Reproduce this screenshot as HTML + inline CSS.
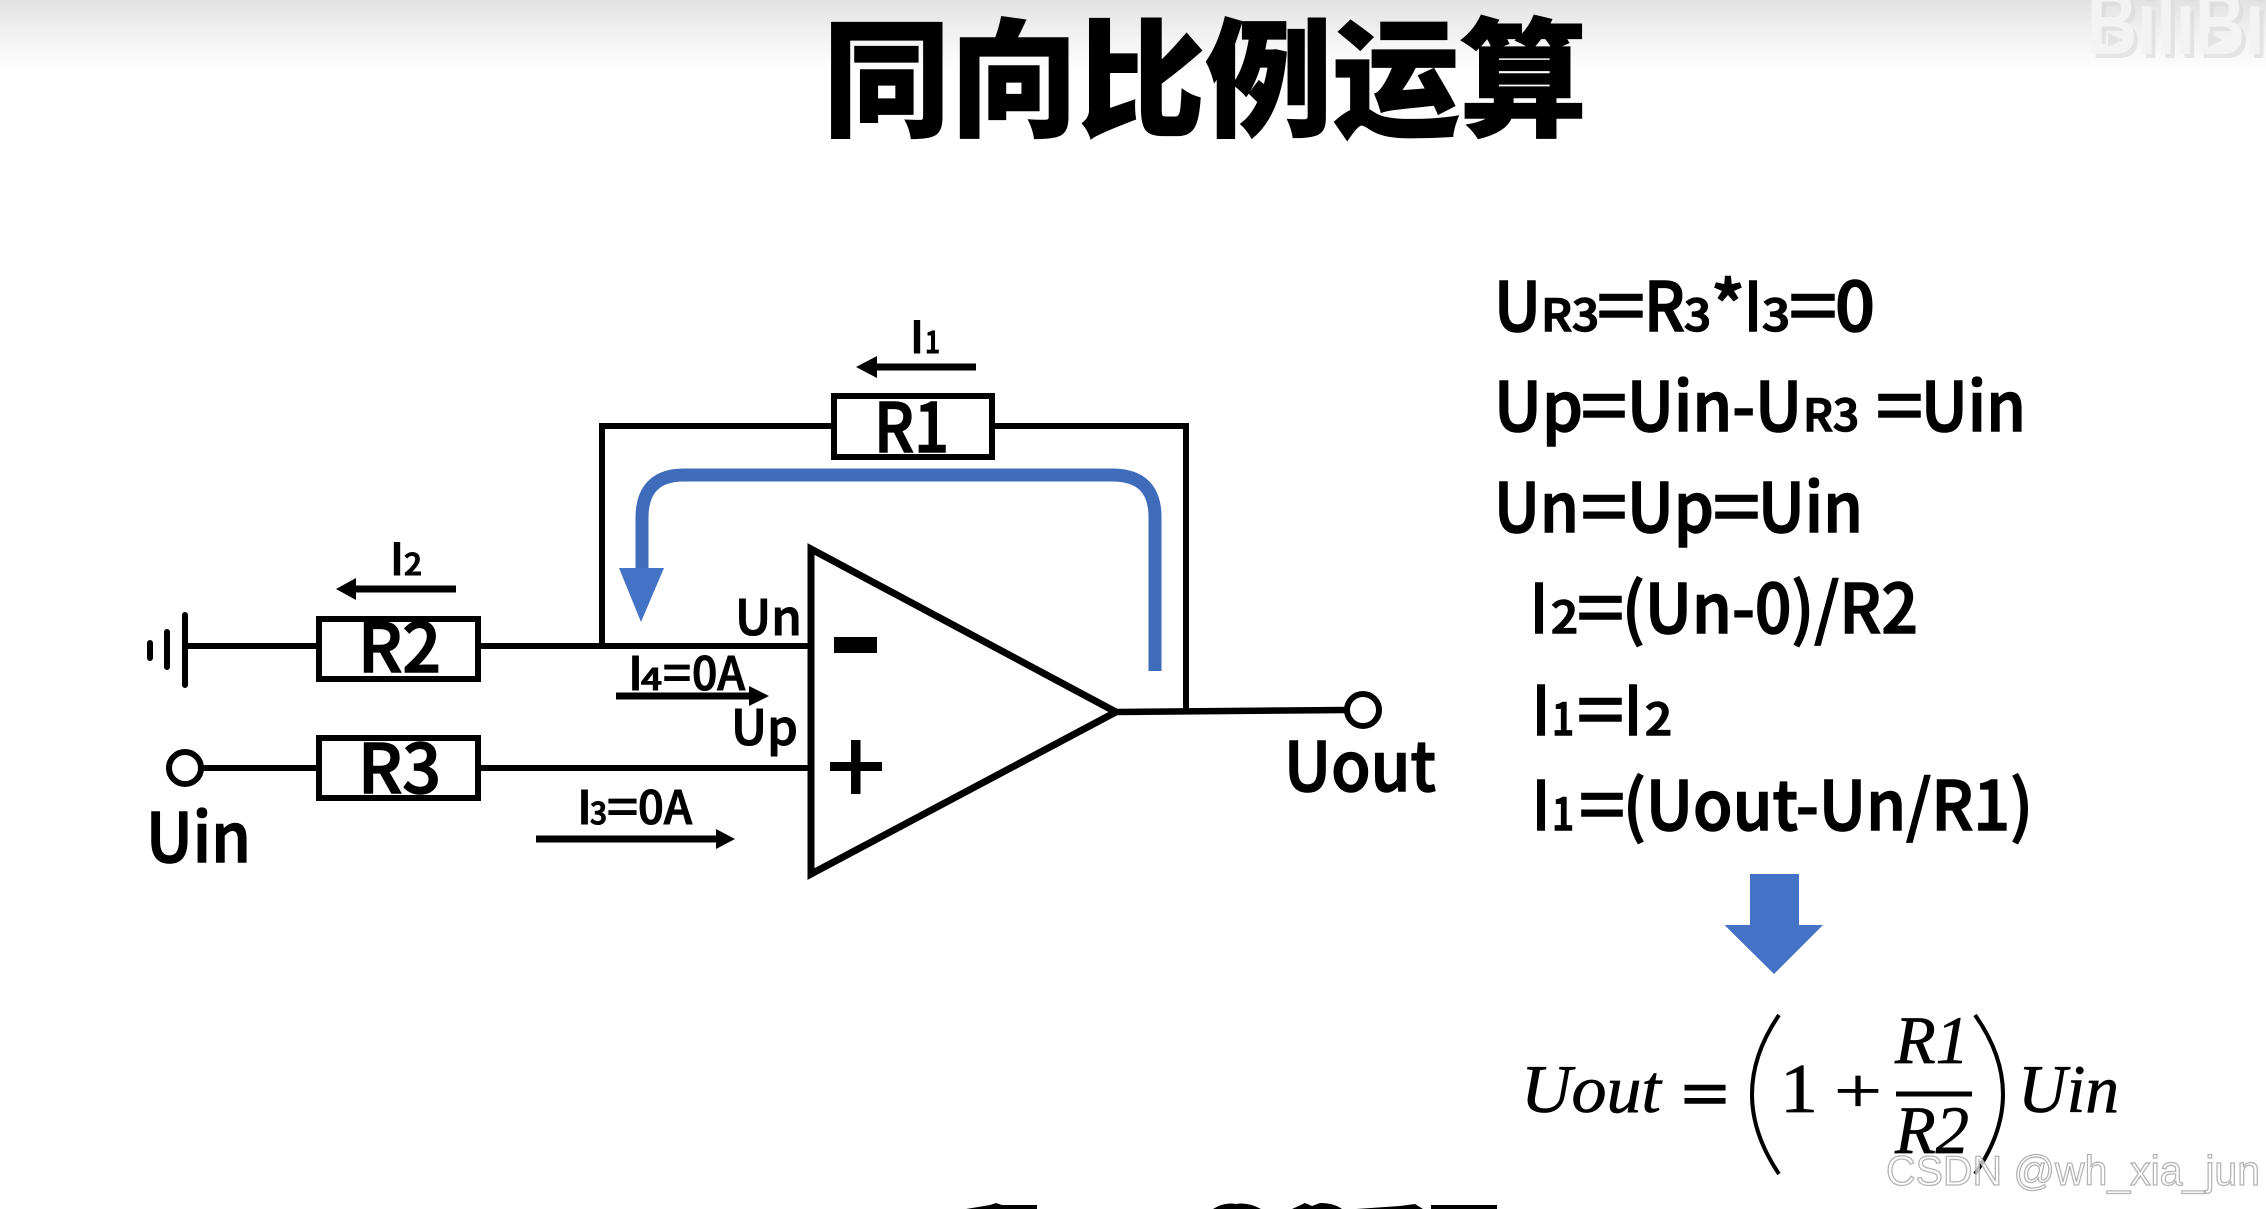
<!DOCTYPE html>
<html lang="zh">
<head>
<meta charset="utf-8">
<title>同向比例运算</title>
<style>
html,body{margin:0;padding:0;background:#fff;width:2266px;height:1209px;overflow:hidden}
svg{display:block}
.n{font-family:"Noto Sans CJK SC","Liberation Sans",sans-serif;font-weight:500;fill:#000;stroke:#000;stroke-width:1.5px}
.s{stroke-width:1.1px}
.m{font-family:"Liberation Serif",serif;font-style:italic;fill:#000;stroke:#000;stroke-width:.7px}
.r{font-family:"Liberation Serif",serif;fill:#000;stroke:#000;stroke-width:.7px}
.w{fill:none;stroke:#000;stroke-width:6}
</style>
</head>
<body>
<svg width="2266" height="1209" viewBox="0 0 2266 1209" xmlns="http://www.w3.org/2000/svg">
<defs>
<linearGradient id="g" x1="0" y1="0" x2="0" y2="1">
<stop offset="0" stop-color="#e2e2e2"/><stop offset=".5" stop-color="#f2f2f2"/><stop offset="1" stop-color="#fff"/>
</linearGradient>
</defs>
<rect width="2266" height="1209" fill="#fff"/>
<rect width="2266" height="72" fill="url(#g)"/>

<!-- bilibili watermark -->
<text x="2091" y="58" font-family="Liberation Sans,sans-serif" font-weight="700" font-size="90" fill="#dcdcdc" textLength="216" lengthAdjust="spacingAndGlyphs" opacity=".7">BiliBili</text>
<text x="2087" y="54" font-family="Liberation Sans,sans-serif" font-weight="700" font-size="90" fill="#f3f3f3" textLength="216" lengthAdjust="spacingAndGlyphs">BiliBili</text>
<path d="M2108 33L2123 40L2108 47ZM2208 33L2223 40L2208 47Z" fill="#e4e4e4"/>

<!-- title -->
<text x="823" y="126" font-family="Noto Sans CJK SC,sans-serif" font-weight="900" font-size="128" fill="#000" stroke="#000" stroke-width="1.2" textLength="764" lengthAdjust="spacingAndGlyphs">同向比例运算</text>

<!-- feedback wires -->
<path class="w" d="M602 646V426H833M993 426H1186V712"/>
<rect class="w" x="834" y="396" width="158" height="61"/>
<!-- R2 / R3 -->
<path class="w" d="M185 646H319M478 646H812M188 768H319M478 768H812"/>
<rect class="w" x="319" y="619" width="159" height="60"/>
<rect class="w" x="319" y="738" width="159" height="60"/>
<!-- ground -->
<path d="M185 615V685M167 632V667" fill="none" stroke="#000" stroke-width="6" stroke-linecap="round"/>
<path d="M150 643V658" fill="none" stroke="#000" stroke-width="6" stroke-linecap="round"/>
<circle cx="185" cy="768" r="16" fill="#fff" stroke="#000" stroke-width="6"/>

<!-- op amp -->
<path d="M811 549V874L1116 712Z" fill="#fff" stroke="#000" stroke-width="7"/>
<path d="M1116 712L1346 710" fill="none" stroke="#000" stroke-width="6.500"/>
<circle cx="1363" cy="710" r="16" fill="#fff" stroke="#000" stroke-width="6"/>
<rect x="834" y="637" width="43" height="16" fill="#000"/>
<rect x="830" y="762" width="52" height="9" fill="#000"/>
<rect x="851" y="740" width="9.500" height="54" fill="#000"/>

<!-- blue feedback arrow -->
<path d="M1155 671V517Q1155 475 1112 475H684Q642 475 642 518V572" fill="none" stroke="#3e6cba" stroke-width="13"/>
<path d="M619 568H664L641 622Z" fill="#4472c4"/>
<!-- big down arrow -->
<path d="M1750 874H1799V925H1823L1774 974L1724.500 925H1750Z" fill="#4472c4"/>

<!-- current arrows -->
<g fill="#000">
<rect x="874" y="363.500" width="102" height="7"/><path d="M856 367L877 356V378Z"/>
<rect x="354" y="585.500" width="102" height="7"/><path d="M336 589L356 578V600Z"/>
<rect x="616" y="692.500" width="136" height="7"/><path d="M769 696L749 686V706Z"/>
<rect x="536" y="835.500" width="182" height="7"/><path d="M735 839L716 829V849Z"/>
</g>

<!-- circuit labels -->
<text class="n" x="358" y="672" font-size="68" textLength="83" lengthAdjust="spacingAndGlyphs">R2</text>
<text class="n" x="358" y="793" font-size="68" textLength="83" lengthAdjust="spacingAndGlyphs">R3</text>
<text class="n" x="874" y="452" font-size="68" textLength="75" lengthAdjust="spacingAndGlyphs">R1</text>
<text class="n" x="146" y="862" font-size="68" textLength="105" lengthAdjust="spacingAndGlyphs">Uin</text>
<text class="n" x="1284" y="791" font-size="68" textLength="152" lengthAdjust="spacingAndGlyphs">Uout</text>
<text class="n s" x="735" y="635" font-size="49" textLength="67" lengthAdjust="spacingAndGlyphs">Un</text>
<text class="n s" x="731" y="745" font-size="49" textLength="67" lengthAdjust="spacingAndGlyphs">Up</text>

<text class="n s" x="910" y="353" font-size="44" textLength="14" lengthAdjust="spacingAndGlyphs">I</text>
<text class="n s" x="925" y="353" font-size="30" textLength="15" lengthAdjust="spacingAndGlyphs">1</text>
<text class="n s" x="390" y="575" font-size="44" textLength="14" lengthAdjust="spacingAndGlyphs">I</text>
<text class="n s" x="404" y="575" font-size="30" textLength="18" lengthAdjust="spacingAndGlyphs">2</text>

<text class="n s" x="628" y="690" font-size="46" textLength="15" lengthAdjust="spacingAndGlyphs">I</text>
<text class="n s" x="641" y="690" font-size="30" textLength="21" lengthAdjust="spacingAndGlyphs">4</text>
<text class="n s" x="663" y="690" font-size="46" textLength="28" lengthAdjust="spacingAndGlyphs">=</text>
<text class="n s" x="692" y="690" font-size="46" textLength="53" lengthAdjust="spacingAndGlyphs">0A</text>

<text class="n s" x="577" y="824" font-size="46" textLength="15" lengthAdjust="spacingAndGlyphs">I</text>
<text class="n s" x="590" y="824" font-size="30" textLength="17" lengthAdjust="spacingAndGlyphs">3</text>
<text class="n s" x="607" y="824" font-size="46" textLength="31" lengthAdjust="spacingAndGlyphs">=</text>
<text class="n s" x="638" y="824" font-size="46" textLength="54" lengthAdjust="spacingAndGlyphs">0A</text>

<!-- equations -->
<g>
<text class="n" x="1494" y="331" font-size="68" textLength="47" lengthAdjust="spacingAndGlyphs">U</text>
<text class="n" x="1541" y="331" font-size="44" textLength="58" lengthAdjust="spacingAndGlyphs">R3</text>
<text class="n" x="1597" y="331" font-size="68" textLength="48" lengthAdjust="spacingAndGlyphs">=</text>
<text class="n" x="1644" y="331" font-size="68" textLength="41" lengthAdjust="spacingAndGlyphs">R</text>
<text class="n" x="1684" y="331" font-size="44" textLength="27" lengthAdjust="spacingAndGlyphs">3</text>
<text class="n" x="1711" y="331" font-size="68" textLength="34" lengthAdjust="spacingAndGlyphs">*</text>
<text class="n" x="1744" y="331" font-size="68" textLength="18" lengthAdjust="spacingAndGlyphs">I</text>
<text class="n" x="1762" y="331" font-size="44" textLength="28" lengthAdjust="spacingAndGlyphs">3</text>
<text class="n" x="1789" y="331" font-size="68" textLength="48" lengthAdjust="spacingAndGlyphs">=</text>
<text class="n" x="1835" y="331" font-size="68" textLength="40" lengthAdjust="spacingAndGlyphs">0</text>

<text class="n" x="1494" y="431" font-size="68" textLength="89" lengthAdjust="spacingAndGlyphs">Up</text>
<text class="n" x="1581" y="431" font-size="68" textLength="46" lengthAdjust="spacingAndGlyphs">=</text>
<text class="n" x="1627" y="431" font-size="68" textLength="175" lengthAdjust="spacingAndGlyphs">Uin-U</text>
<text class="n" x="1803" y="431" font-size="44" textLength="56" lengthAdjust="spacingAndGlyphs">R3</text>
<text class="n" x="1876" y="431" font-size="68" textLength="47" lengthAdjust="spacingAndGlyphs">=</text>
<text class="n" x="1921" y="431" font-size="68" textLength="105" lengthAdjust="spacingAndGlyphs">Uin</text>

<text class="n" x="1494" y="532" font-size="68" textLength="85" lengthAdjust="spacingAndGlyphs">Un</text>
<text class="n" x="1581" y="532" font-size="68" textLength="46" lengthAdjust="spacingAndGlyphs">=</text>
<text class="n" x="1627" y="532" font-size="68" textLength="87" lengthAdjust="spacingAndGlyphs">Up</text>
<text class="n" x="1713" y="532" font-size="68" textLength="47" lengthAdjust="spacingAndGlyphs">=</text>
<text class="n" x="1758" y="532" font-size="68" textLength="105" lengthAdjust="spacingAndGlyphs">Uin</text>

<text class="n" x="1530" y="633" font-size="68" textLength="18" lengthAdjust="spacingAndGlyphs">I</text>
<text class="n" x="1551" y="633" font-size="44" textLength="27" lengthAdjust="spacingAndGlyphs">2</text>
<text class="n" x="1577" y="633" font-size="68" textLength="47" lengthAdjust="spacingAndGlyphs">=</text>
<text class="n" x="1622" y="633" font-size="68" textLength="296" lengthAdjust="spacingAndGlyphs">(Un-0)/R2</text>

<text class="n" x="1532" y="735" font-size="68" textLength="18" lengthAdjust="spacingAndGlyphs">I</text>
<text class="n" x="1552" y="735" font-size="44" textLength="22" lengthAdjust="spacingAndGlyphs">1</text>
<text class="n" x="1577" y="735" font-size="68" textLength="47" lengthAdjust="spacingAndGlyphs">=</text>
<text class="n" x="1624" y="735" font-size="68" textLength="18" lengthAdjust="spacingAndGlyphs">I</text>
<text class="n" x="1645" y="735" font-size="44" textLength="27" lengthAdjust="spacingAndGlyphs">2</text>

<text class="n" x="1532" y="830" font-size="68" textLength="18" lengthAdjust="spacingAndGlyphs">I</text>
<text class="n" x="1552" y="830" font-size="44" textLength="22" lengthAdjust="spacingAndGlyphs">1</text>
<text class="n" x="1579" y="830" font-size="68" textLength="46" lengthAdjust="spacingAndGlyphs">=</text>
<text class="n" x="1623" y="830" font-size="68" textLength="410" lengthAdjust="spacingAndGlyphs">(Uout-Un/R1)</text>
</g>

<!-- formula -->
<text class="m" x="1521" y="1112" font-size="68" textLength="140" lengthAdjust="spacingAndGlyphs">Uout</text>
<text x="1682" y="1116" font-family="Liberation Serif,serif" font-size="66" fill="#000" stroke="#000" stroke-width="2.500" textLength="46" lengthAdjust="spacingAndGlyphs">=</text>
<path d="M1779 1015Q1725 1094 1779 1174" fill="none" stroke="#000" stroke-width="4"/>
<text class="r" x="1780" y="1112" font-size="70" textLength="38" lengthAdjust="spacingAndGlyphs">1</text>
<text class="r" x="1834" y="1112" font-size="64" textLength="48" lengthAdjust="spacingAndGlyphs">+</text>
<text class="m" x="1895" y="1063" font-size="68" textLength="74" lengthAdjust="spacingAndGlyphs">R1</text>
<rect x="1896" y="1091.500" width="76" height="5" fill="#000"/>
<text class="m" x="1895" y="1153" font-size="68" textLength="74" lengthAdjust="spacingAndGlyphs">R2</text>
<path d="M1975 1015Q2031 1094 1975 1174" fill="none" stroke="#000" stroke-width="4"/>
<text class="m" x="2018" y="1112" font-size="68" textLength="101" lengthAdjust="spacingAndGlyphs">Uin</text>

<!-- cut-off bottom line -->
<g fill="#000">
<path d="M966 1209L990 1205L996 1203L1002 1205L1037 1205V1209Z"/>
<path d="M1213 1209Q1224 1202 1236 1204Q1248 1202 1261 1209Z"/>
<path d="M1292 1209L1305 1203L1312 1206L1320 1203Q1334 1203 1342 1209Z"/>
<path d="M1356 1209L1400 1206L1415 1204L1423 1209Z"/>
<rect x="1431" y="1205" width="66" height="4"/>
</g>

<!-- CSDN watermark -->
<text x="1886" y="1185" font-family="Liberation Sans,sans-serif" font-size="42" fill="rgba(255,255,255,.7)" stroke="#b4b4b4" stroke-width="1.300" textLength="374" lengthAdjust="spacingAndGlyphs">CSDN @wh_xia_jun</text>
</svg>
</body>
</html>
